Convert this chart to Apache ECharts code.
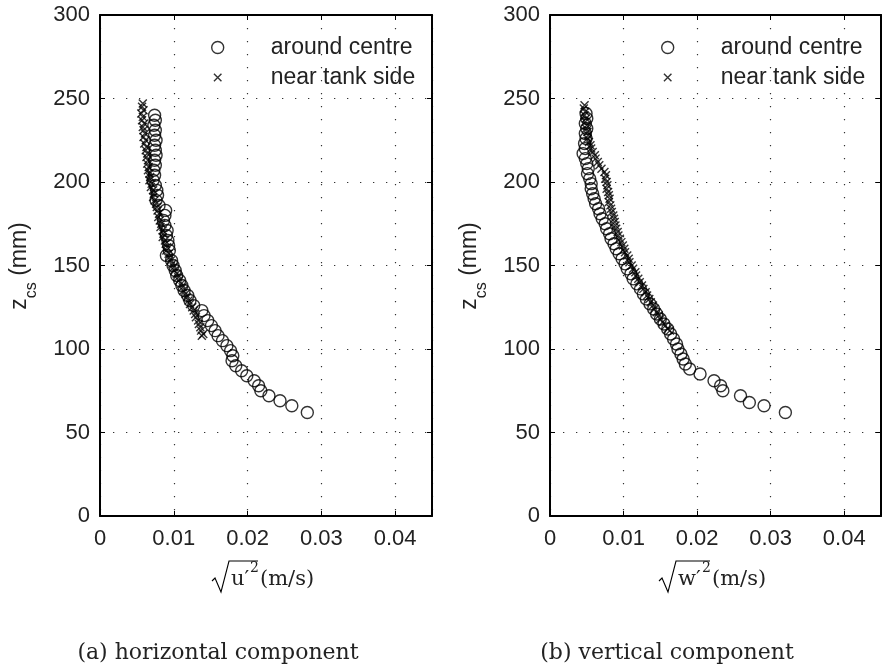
<!DOCTYPE html>
<html>
<head>
<meta charset="utf-8">
<script src="https://cdn.jsdelivr.net/npm/echarts@6/dist/echarts.min.js"></script>
<style>
  html, body { margin: 0; padding: 0; background: #fff; }
  #chart { width: 882px; height: 670px; }
</style>
</head>
<body>
<div id="chart"></div>
<script>
// RMS velocity fluctuation profiles: [rms value (m/s), z_cs (mm)]
const horizCentre = [
  [0.0074,240],[0.0075,237],[0.0073,234],[0.0075,231],[0.0074,228],[0.0076,225],
  [0.0074,222],[0.0075,219],[0.0076,216],[0.0074,213],[0.0075,210],[0.0073,207],
  [0.0074,204],[0.0072,201],[0.0075,198],[0.0077,195],[0.0078,192],[0.0076,189],
  [0.0080,186],[0.0089,183],[0.0088,180],[0.0086,177],[0.0088,174],[0.0091,171],
  [0.0090,168],[0.0092,165],[0.0093,162],[0.0094,159],[0.0090,156],[0.0097,153],
  [0.0099,150],[0.0102,147],[0.0104,144],[0.0108,141],[0.0111,138],[0.0114,135],
  [0.0119,132],[0.0122,129],[0.0127,126],[0.0138,123],[0.0141,120],[0.0146,117],
  [0.0151,114],[0.0156,111],[0.0160,108],[0.0166,105],[0.0172,102],[0.0177,99],
  [0.0180,96],[0.0179,93],[0.0184,90],[0.0192,87],[0.0199,84],[0.0209,81],
  [0.0215,78],[0.0218,75],[0.0229,72],[0.0244,69],[0.0260,66],[0.0281,62]
];
const horizSide = [
  [0.0058,247],[0.0057,245],[0.0059,243],[0.0056,241],[0.0058,239],[0.0057,237],
  [0.0060,235],[0.0058,233],[0.0059,231],[0.0061,229],[0.0059,227],[0.0062,225],
  [0.0060,223],[0.0063,221],[0.0062,219],[0.0064,217],[0.0063,215],[0.0065,213],
  [0.0064,211],[0.0066,209],[0.0065,207],[0.0067,205],[0.0068,203],[0.0067,201],
  [0.0070,199],[0.0069,197],[0.0072,195],[0.0073,193],[0.0072,191],[0.0074,189],
  [0.0076,187],[0.0077,185],[0.0078,183],[0.0080,181],[0.0079,179],[0.0081,177],
  [0.0083,175],[0.0082,173],[0.0085,171],[0.0086,169],[0.0085,167],[0.0088,165],
  [0.0089,163],[0.0091,161],[0.0090,159],[0.0093,157],[0.0094,155],[0.0096,153],
  [0.0098,151],[0.0100,149],[0.0101,147],[0.0104,145],[0.0106,143],[0.0107,141],
  [0.0110,139],[0.0112,137],[0.0113,135],[0.0116,133],[0.0118,131],[0.0120,129],
  [0.0122,127],[0.0125,125],[0.0127,123],[0.0129,121],[0.0130,119],[0.0133,117],
  [0.0134,115],[0.0136,113],[0.0137,111],[0.0140,109],[0.0138,108]
];
const vertCentre = [
  [0.0049,241],[0.0050,238],[0.0048,235],[0.0050,232],[0.0048,229],[0.0049,226],
  [0.0047,223],[0.0048,220],[0.0045,217],[0.0048,214],[0.0050,211],[0.0052,208],
  [0.0051,205],[0.0054,202],[0.0056,199],[0.0056,196],[0.0058,193],[0.0060,190],
  [0.0062,187],[0.0066,184],[0.0068,181],[0.0071,178],[0.0075,175],[0.0077,172],
  [0.0081,169],[0.0083,166],[0.0087,163],[0.0090,160],[0.0094,157],[0.0098,154],
  [0.0102,151],[0.0105,148],[0.0110,145],[0.0113,142],[0.0118,139],[0.0123,136],
  [0.0127,133],[0.0131,130],[0.0136,127],[0.0141,124],[0.0145,121],[0.0150,118],
  [0.0155,115],[0.0160,112],[0.0164,109],[0.0168,106],[0.0172,103],[0.0174,100],
  [0.0178,97],[0.0181,94],[0.0184,91],[0.0190,88],[0.0204,85],[0.0223,81],
  [0.0232,78],[0.0235,75],[0.0259,72],[0.0271,68],[0.0291,66],[0.0320,62]
];
const vertSide = [
  [0.0047,246],[0.0046,244],[0.0048,242],[0.0047,240],[0.0049,238],[0.0048,236],
  [0.0050,234],[0.0049,232],[0.0051,230],[0.0052,228],[0.0051,226],[0.0053,224],
  [0.0055,222],[0.0056,220],[0.0058,218],[0.0061,216],[0.0062,214],[0.0065,212],
  [0.0067,210],[0.0070,208],[0.0074,206],[0.0076,204],[0.0075,202],[0.0077,200],
  [0.0078,198],[0.0077,196],[0.0079,194],[0.0080,192],[0.0081,190],[0.0080,188],
  [0.0082,186],[0.0083,184],[0.0084,182],[0.0086,180],[0.0087,178],[0.0088,176],
  [0.0089,174],[0.0090,172],[0.0092,170],[0.0093,168],[0.0095,166],[0.0097,164],
  [0.0099,162],[0.0101,160],[0.0102,158],[0.0105,156],[0.0107,154],[0.0108,152],
  [0.0111,150],[0.0113,148],[0.0116,146],[0.0117,144],[0.0120,142],[0.0122,140],
  [0.0125,138],[0.0127,136],[0.0130,134],[0.0132,132],[0.0135,130],[0.0137,128],
  [0.0140,126],[0.0142,124],[0.0145,122],[0.0148,120],[0.0150,118],[0.0153,116],
  [0.0157,114],[0.0160,112],[0.0163,111]
];

// Axis settings
const xRange = { min: 0, max: 0.045, interval: 0.01 };
const yRange = { min: 0, max: 300, interval: 50 };
const seriesNames = ['around centre', 'near tank side'];

const SANS = 'Liberation Sans, Helvetica, Arial, sans-serif';
const SERIF = 'DejaVu Serif, Liberation Serif, serif';
const CROSS = 'path://M0,0L10,10M10,0L0,10';
const CROSS_ICON = 'path://M-3,-3L-3,-3M13,13L13,13M0,0L10,10M10,0L0,10';
const INK = '#000';
const TEXT = '#222';

const frameLine = { show: true, onZero: false, lineStyle: { color: INK, width: 2 } };
const innerTick = { show: true, inside: true, length: 5, lineStyle: { color: INK, width: 1 } };
const dotted = { show: true, lineStyle: { color: '#333', width: 1.2, type: [1.3, 11.7] } };

function xAxesFor(gridIndex) {
  return [
    Object.assign({ type: 'value', gridIndex, position: 'bottom' }, xRange, {
      axisLine: frameLine, axisTick: innerTick, splitLine: dotted,
      axisLabel: { margin: 12, fontFamily: SANS, fontSize: 22, color: TEXT, showMaxLabel: false }
    }),
    Object.assign({ type: 'value', gridIndex, position: 'top' }, xRange, {
      axisLine: frameLine, axisTick: innerTick, splitLine: { show: false },
      axisLabel: { show: false }
    })
  ];
}
function yAxesFor(gridIndex) {
  return [
    Object.assign({ type: 'value', gridIndex, position: 'left' }, yRange, {
      axisLine: frameLine, axisTick: innerTick, splitLine: dotted,
      axisLabel: { margin: 10, fontFamily: SANS, fontSize: 22, color: TEXT }
    }),
    Object.assign({ type: 'value', gridIndex, position: 'right' }, yRange, {
      axisLine: frameLine, axisTick: innerTick, splitLine: { show: false },
      axisLabel: { show: false }
    })
  ];
}

const hollow = { color: 'transparent', borderColor: INK, borderWidth: 1.4 };

function legendAt(left) {
  return {
    orient: 'vertical', left, top: 31, itemGap: 7,
    itemWidth: 12, itemHeight: 12,
    selectedMode: false,
    textStyle: { fontFamily: SANS, fontSize: 23, color: TEXT, padding: [0, 0, 0, 42] },
    data: [
      { name: seriesNames[0], icon: 'circle', itemStyle: hollow },
      { name: seriesNames[1], icon: CROSS_ICON, itemStyle: hollow }
    ]
  };
}

function scatter(name, data, axisIndex, isCross) {
  return {
    type: 'scatter', name, data,
    xAxisIndex: axisIndex, yAxisIndex: axisIndex,
    symbol: isCross ? CROSS : 'circle',
    symbolSize: isCross ? 8 : 12,
    itemStyle: hollow,
    emphasis: { disabled: true },
    silent: true
  };
}

// Axis title pieces: radical sign, overlined symbol with prime and square, units
function radicalTitle(x0, letter, letterW) {
  const yTop = 561, yMid = 580;
  const barEnd = x0 + 19 + letterW + 14;
  return [
    { type: 'polyline', silent: true,
      shape: { points: [[x0, yMid + 1], [x0 + 3, yMid - 2], [x0 + 9, 592], [x0 + 17, yTop], [barEnd, yTop]] },
      style: { stroke: INK, lineWidth: 1.1, fill: null } },
    { type: 'text', silent: true, x: x0 + 19, y: yMid,
      style: { text: letter + '\u2032', fontFamily: SERIF, fontSize: 21, fill: TEXT, align: 'left', verticalAlign: 'middle' } },
    { type: 'text', silent: true, x: x0 + 19 + letterW + 6, y: 568,
      style: { text: '2', fontFamily: SERIF, fontSize: 14, fill: TEXT, align: 'left', verticalAlign: 'middle' } },
    { type: 'text', silent: true, x: barEnd + 2, y: yMid,
      style: { text: '(m/s)', fontFamily: SERIF, fontSize: 21, fill: TEXT, align: 'left', verticalAlign: 'middle' } }
  ];
}

function zLabel(x) {
  return {
    type: 'text', silent: true, x, y: 266, rotation: Math.PI / 2,
    style: {
      text: '{z|z}{s|cs}{n| (mm)}', align: 'center', verticalAlign: 'middle',
      rich: {
        z: { fontFamily: SANS, fontSize: 23, fill: TEXT, color: TEXT },
        s: { fontFamily: SANS, fontSize: 16, fill: TEXT, color: TEXT, padding: [24, 0, 0, 0] },
        n: { fontFamily: SANS, fontSize: 23, fill: TEXT, color: TEXT }
      }
    }
  };
}

function caption(x, text) {
  return {
    type: 'text', silent: true, x, y: 653,
    style: { text, fontFamily: SERIF, fontSize: 22, fill: TEXT, align: 'center', verticalAlign: 'middle' }
  };
}

const chart = echarts.init(document.getElementById('chart'), null, { renderer: 'canvas' });
chart.setOption({
  animation: false,
  backgroundColor: '#fff',
  grid: [
    { left: 100, top: 15, width: 332, height: 501 },
    { left: 550, top: 15, width: 331, height: 501 }
  ],
  xAxis: [...xAxesFor(0), ...xAxesFor(1)],
  yAxis: [...yAxesFor(0), ...yAxesFor(1)],
  legend: [legendAt(206), legendAt(656)],
  series: [
    scatter(seriesNames[0], horizCentre, 0, false),
    scatter(seriesNames[1], horizSide, 0, true),
    scatter(seriesNames[0], vertCentre, 2, false),
    scatter(seriesNames[1], vertSide, 2, true)
  ],
  graphic: {
    elements: [
      zLabel(20), zLabel(470),
      ...radicalTitle(212, 'u', 13),
      ...radicalTitle(659, 'w', 18),
      caption(218, '(a) horizontal component'),
      caption(667, '(b) vertical component')
    ]
  }
});
</script>
</body>
</html>
